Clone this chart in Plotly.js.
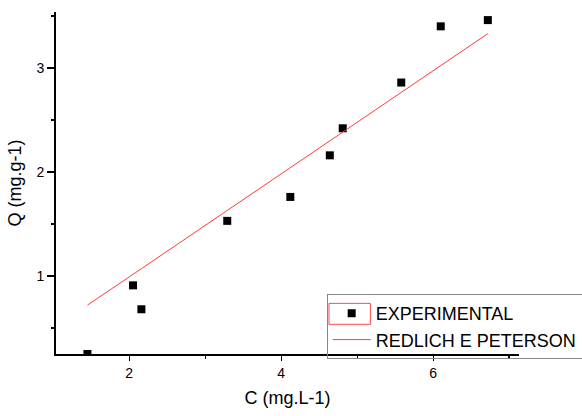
<!DOCTYPE html>
<html>
<head>
<meta charset="utf-8">
<script src="https://cdn.plot.ly/plotly-3.0.1.min.js"></script>
<style>html,body{margin:0;padding:0;background:#fff;}#chart{width:582px;height:416px;}</style>
</head>
<body>
<div id="chart"></div>
<script>
const expC = [1.45, 2.05, 2.16, 3.29, 4.12, 4.64, 4.81, 5.58, 6.10, 6.72];
const expQ = [0.25, 0.91, 0.68, 1.53, 1.76, 2.16, 2.42, 2.86, 3.40, 3.46];
const fitC = [1.45, 2.05, 2.16, 3.29, 4.12, 4.64, 4.81, 5.58, 6.10, 6.72];
const fitQ = [0.72, 1.02, 1.07, 1.63, 2.04, 2.30, 2.38, 2.76, 3.02, 3.33];
const seriesNames = ["EXPERIMENTAL", "REDLICH E PETERSON"];
const xTitle = "C (mg.L-1)";
const yTitle = "Q (mg.g-1)";

const font = "Liberation Sans, Arial, sans-serif";

const traces = [
  {x: expC, y: expQ, name: seriesNames[0], mode: "markers", type: "scatter",
   marker: {symbol: "square", size: 8, color: "#000"}, cliponaxis: true},
  {x: fitC, y: fitQ, name: seriesNames[1], mode: "lines", type: "scatter",
   line: {color: "#ff3b3b", width: 1}}
];

const L = 56, R = 63, T = 12, B = 62;
const layout = {
  width: 582, height: 416,
  margin: {l: L, r: R, t: T, b: B, pad: 0, autoexpand: false},
  paper_bgcolor: "#fff", plot_bgcolor: "#fff",
  font: {family: font, size: 14, color: "#000"},
  showlegend: true,
  xaxis: {
    range: [1.036, 7.13], showgrid: false, zeroline: false,
    showline: true, linecolor: "#000", linewidth: 2,
    ticks: "outside", ticklen: 5, tickwidth: 1.3, tickcolor: "#000",
    tick0: 2, dtick: 2,
    minor: {ticks: "outside", ticklen: 3, tickwidth: 1.3, tickcolor: "#000", dtick: 1, tick0: 1, showgrid: false},
    tickfont: {size: 14, family: font},
    title: {text: xTitle, font: {size: 18, family: font}, standoff: 12}
  },
  yaxis: {
    range: [0.25, 3.538], showgrid: false, zeroline: false,
    showline: true, linecolor: "#000", linewidth: 2,
    ticks: "outside", ticklen: 7, tickwidth: 1.3, tickcolor: "#000",
    tick0: 1, dtick: 1,
    minor: {ticks: "outside", ticklen: 3, tickwidth: 1.3, tickcolor: "#000", dtick: 0.5, tick0: 0.5, showgrid: false},
    tickfont: {size: 14, family: font},
    title: {text: yTitle, font: {size: 18, family: font}, standoff: 10}
  },
  legend: {
    xref: "container", yref: "container",
    x: 0.5613, y: 0.2933, xanchor: "left", yanchor: "top",
    bgcolor: "rgba(255,255,255,0)", bordercolor: "#888", borderwidth: 1,
    font: {size: 18, family: font, color: "#000"},
    tracegroupgap: 0, itemwidth: 38
  },
  shapes: [
    {type: "rect", xref: "paper", yref: "paper", x0: 0.5896, x1: 0.679, y0: 0.0868, y1: 0.148,
     line: {color: "#ff4a4a", width: 1}, fillcolor: "rgba(0,0,0,0)", layer: "above"}
  ]
};

Plotly.newPlot("chart", traces, layout, {displayModeBar: false, staticPlot: true});
</script>
</body>
</html>
